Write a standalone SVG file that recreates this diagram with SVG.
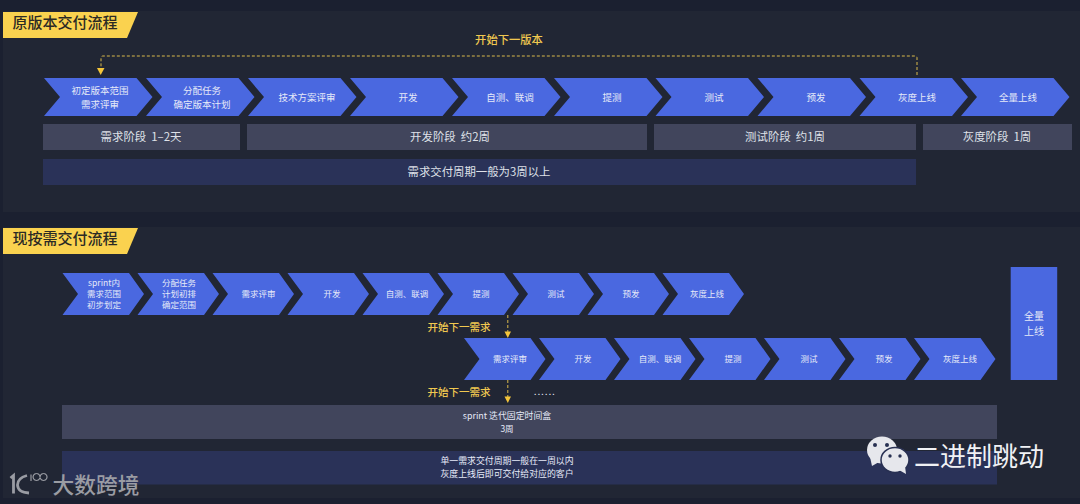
<svg xmlns="http://www.w3.org/2000/svg" width="1080" height="504" viewBox="0 0 1080 504">
<style>
text{font-family:"Noto Sans CJK SC","Noto Sans",sans-serif;text-anchor:middle}
.c{fill:#4a68e0}
.t{fill:#e6eaf8;font-size:9.5px}
.s{fill:#e6eaf8;font-size:8.500px}
.m{fill:#e6eaf8;font-size:8.900px}
.g{fill:#41455c}
.n{fill:#2a3258}
.b{fill:#dfe1e8;font-size:11.400px}
.y{fill:#f0c850;font-size:10.500px;font-weight:500}
.h{fill:#2b2a25;font-size:15px;font-weight:500}
.tag{fill:#fad24f}
.d{fill:none;stroke:#d9b84a;stroke-width:1;stroke-dasharray:3 2}
.a{fill:#f5c53a}
.l{fill:none;stroke:#9a9ca3}
.w{fill:#e6e7ec}
.e{fill:#283052}
</style>
<defs>
<polygon id="c1" points="0,0 92.5,0 108.5,19 92.5,38 0,38 16,19"/>
<polygon id="c2" points="0,0 66.500,0 81.500,21 66.500,42 0,42 15.500,21"/>
</defs>
<rect width="1080" height="504" fill="#1b2030"/>
<rect x="3" y="11" width="1077" height="201" fill="#212634"/>
<rect x="3" y="227" width="1077" height="271" fill="#212634"/>
<g id="title-old"><polygon class="tag" points="3,12 138,12 127,38 3,38"/><text class="h" x="65" y="28">原版本交付流程</text></g>
<g id="title-new"><polygon class="tag" points="3,228 138,228 127,254 3,254"/><text class="h" x="65" y="244">现按需交付流程</text></g>
<g id="connectors">
<path class="d" d="M917,75V58Q917,56 915,56H103Q101,56 101,58V68"/>
<polygon class="a" points="97,68 104.500,68 100.700,75"/>
<path class="d" d="M507.800,315V333"/>
<polygon class="a" points="504.500,331.500 511,331.500 507.800,338"/>
<path class="d" d="M507.800,380V398"/>
<polygon class="a" points="504.500,396.500 511,396.500 507.800,403"/>
</g>
<g id="o1"><use class="c" href="#c1" x="44" y="78"/><text class="t" x="100" y="94">初定版本范围</text><text class="t" x="100" y="107.500">需求评审</text></g>
<g id="o2"><use class="c" href="#c1" x="146" y="78"/><text class="t" x="202" y="94">分配任务</text><text class="t" x="202" y="107.500">确定版本计划</text></g>
<g id="o3"><use class="c" href="#c1" x="248" y="78"/><text class="t" x="307" y="100.500">技术方案评审</text></g>
<g id="o4"><use class="c" href="#c1" x="350" y="78"/><text class="t" x="408" y="100.500">开发</text></g>
<g id="o5"><use class="c" href="#c1" x="452" y="78"/><text class="t" x="510" y="100.500">自测、联调</text></g>
<g id="o6"><use class="c" href="#c1" x="554" y="78"/><text class="t" x="612" y="100.500">提测</text></g>
<g id="o7"><use class="c" href="#c1" x="655.500" y="78"/><text class="t" x="714" y="100.500">测试</text></g>
<g id="o8"><use class="c" href="#c1" x="757.500" y="78"/><text class="t" x="816" y="100.500">预发</text></g>
<g id="o9"><use class="c" href="#c1" x="859.500" y="78"/><text class="t" x="917" y="100.500">灰度上线</text></g>
<g id="o10"><use class="c" href="#c1" x="961" y="78"/><text class="t" x="1018" y="100.500">全量上线</text></g>
<text class="y" x="509" y="44" style="font-size:11.300px">开始下一版本</text>
<g id="p1"><rect class="g" x="43" y="124" width="197" height="26"/><text class="b" x="141" y="141">需求阶段&#160;&#160;1–2天</text></g>
<g id="p2"><rect class="g" x="247" y="124" width="400" height="26"/><text class="b" x="450" y="141">开发阶段&#160;&#160;约2周</text></g>
<g id="p3"><rect class="g" x="654" y="124" width="262" height="26"/><text class="b" x="785" y="141">测试阶段&#160;&#160;约1周</text></g>
<g id="p4"><rect class="g" x="923" y="124" width="149" height="26"/><text class="b" x="997" y="141">灰度阶段&#160;&#160;1周</text></g>
<g id="cycle-old"><rect class="n" x="43" y="159" width="873" height="26"/><text class="b" x="479" y="176">需求交付周期一般为3周以上</text></g>
<g id="r1"><use class="c" href="#c2" x="62.500" y="273"/><text class="s" x="104" y="286">sprint内</text><text class="s" x="104" y="297">需求范围</text><text class="s" x="104" y="308">初步划定</text></g>
<g id="r2"><use class="c" href="#c2" x="137.500" y="273"/><text class="s" x="179" y="286">分配任务</text><text class="s" x="179" y="297">计划初排</text><text class="s" x="179" y="308">确定范围</text></g>
<g id="r3"><use class="c" href="#c2" x="212.500" y="273"/><text class="s" x="258.500" y="297">需求评审</text></g>
<g id="r4"><use class="c" href="#c2" x="287.500" y="273"/><text class="s" x="332" y="297">开发</text></g>
<g id="r5"><use class="c" href="#c2" x="362.500" y="273"/><text class="s" x="407" y="297">自测、联调</text></g>
<g id="r6"><use class="c" href="#c2" x="437.500" y="273"/><text class="s" x="481" y="297">提测</text></g>
<g id="r7"><use class="c" href="#c2" x="512.500" y="273"/><text class="s" x="556" y="297">测试</text></g>
<g id="r8"><use class="c" href="#c2" x="587.500" y="273"/><text class="s" x="631" y="297">预发</text></g>
<g id="r9"><use class="c" href="#c2" x="662.500" y="273"/><text class="s" x="707" y="297">灰度上线</text></g>
<g id="n1"><use class="c" href="#c2" x="464" y="338"/><text class="s" x="510" y="362">需求评审</text></g>
<g id="n2"><use class="c" href="#c2" x="539" y="338"/><text class="s" x="583" y="362">开发</text></g>
<g id="n3"><use class="c" href="#c2" x="614" y="338"/><text class="s" x="660" y="362">自测、联调</text></g>
<g id="n4"><use class="c" href="#c2" x="689" y="338"/><text class="s" x="733" y="362">提测</text></g>
<g id="n5"><use class="c" href="#c2" x="764" y="338"/><text class="s" x="809" y="362">测试</text></g>
<g id="n6"><use class="c" href="#c2" x="839" y="338"/><text class="s" x="884" y="362">预发</text></g>
<g id="n7"><use class="c" href="#c2" x="914" y="338"/><text class="s" x="960" y="362">灰度上线</text></g>
<g id="full"><rect class="c" x="1010.700" y="267" width="46.500" height="113"/><text class="t" x="1034" y="320" style="font-size:10px">全量</text><text class="t" x="1034" y="335" style="font-size:10px">上线</text></g>
<text class="y" x="459" y="331">开始下一需求</text>
<text class="y" x="459" y="396">开始下一需求</text>
<text class="s" x="545" y="395" style="letter-spacing:1.300px">......</text>
<g id="sprint"><rect class="g" x="62" y="405" width="935" height="34"/><text class="m" x="507" y="419">sprint 迭代固定时间盒</text><text class="s" x="507" y="432">3周</text></g>
<g id="cycle-new"><rect class="n" x="62" y="451" width="935" height="33.500"/><text class="m" x="507" y="464">单一需求交付周期一般在一周以内</text><text class="m" x="507" y="477">灰度上线后即可交付给对应的客户</text></g>
<g id="wm-left">
<path class="l" stroke-width="2.800" d="M10.500,478L13.500,475.500V493.500"/>
<path class="l" stroke-width="2.800" d="M27,475.500Q17.500,478 17.500,485Q18,492.500 29,493"/>
<path class="l" stroke-width="1.200" d="M31,474.500V481M36.500,473.500a3.500,3.500 0 1 0 .1,0M43.500,473.500a3.500,3.500 0 1 0 .1,0"/>
<text x="96" y="492.500" style="font-size:21.700px;fill:#9a9ca3;font-weight:500">大数跨境</text>
</g>
<g id="wm-right">
<ellipse class="w" cx="882" cy="450" rx="15" ry="13.500"/><polygon class="w" points="870,457 872,466 879,462"/>
<ellipse class="w" cx="895" cy="460" rx="14" ry="12.500" stroke="#283052" stroke-width="1.500"/><polygon class="w" points="899,470 906,474 905,466"/>
<circle class="e" cx="875" cy="445" r="2"/><circle class="e" cx="887" cy="445" r="2"/><circle class="e" cx="890" cy="456" r="1.700"/><circle class="e" cx="900" cy="456" r="1.700"/>
<text x="979" y="465.500" style="font-size:26px;fill:#f0f1f4">二进制跳动</text>
</g>
</svg>
